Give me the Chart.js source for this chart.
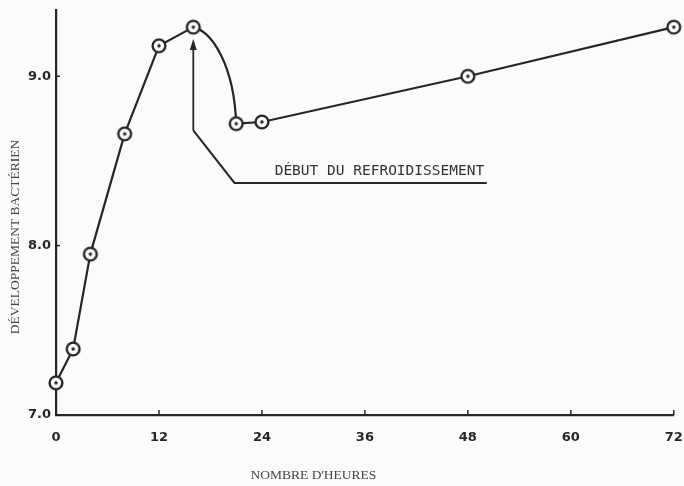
<!DOCTYPE html>
<html lang="fr">
<head>
<meta charset="UTF-8">
<title>Développement bactérien</title>
<script src="https://cdn.jsdelivr.net/npm/chart.js@4.4.0/dist/chart.umd.min.js"></script>
<style>
  html, body { margin: 0; padding: 0; background: #fbfbf9; }
  .wrap { position: relative; width: 684px; height: 486px; }
</style>
</head>
<body>
<div class="wrap"><canvas id="chart"></canvas></div>
<script>
// data
const hours  = [0, 2, 4, 8, 12, 16, 21, 24, 48, 72];
const growth = [7.19, 7.39, 7.95, 8.66, 9.18, 9.29, 8.72, 8.73, 9.0, 9.29];
const xTicks = [0, 12, 24, 36, 48, 60, 72];
const yTicks = [7.0, 8.0, 9.0];

const yTitle = 'DÉVELOPPEMENT BACTÉRIEN';
const xTitle = "NOMBRE D'HEURES";
const noteText = 'DÉBUT DU REFROIDISSEMENT';

// annotation leader in chart units (hours, value)
const arrowX = 16;
const arrowFromTo = [8.68, 9.22];
const leaderX = [16, 20.8, 50.2];
const leaderY = [8.68, 8.37, 8.37];
const noteAt = [49.9, 8.44];
const xTitleAt = 30;
const curvedSegment = 5; // 16h -> 21h is drawn as a curve

const ink = '#262626';

function markerCanvas() {
    const c = document.createElement('canvas');
    c.width = 18; c.height = 18;
    const g = c.getContext('2d');
    g.fillStyle = '#fbfbf9';
    g.strokeStyle = ink;
    g.lineWidth = 2.4;
    g.beginPath(); g.arc(9, 9, 6.4, 0, Math.PI * 2); g.fill(); g.stroke();
    g.fillStyle = ink;
    g.beginPath(); g.arc(9, 9, 1.7, 0, Math.PI * 2); g.fill();
    return c;
}

// curve between 16h and 21h, drawn under the markers
const curvePlugin = {
    id: 'curve',
    beforeDatasetsDraw(chart) {
        const pts = chart.getDatasetMeta(0).data;
        const a = pts[curvedSegment], b = pts[curvedSegment + 1];
        const dx = b.x - a.x, dy = b.y - a.y;
        const ctx = chart.ctx;
        ctx.save();
        ctx.strokeStyle = ink;
        ctx.lineWidth = 2.2;
        ctx.beginPath();
        ctx.moveTo(a.x, a.y);
        ctx.bezierCurveTo(a.x + dx * 0.45, a.y + dy * 0.05, b.x - dx * 0.05, a.y + dy * 0.4, b.x, b.y);
        ctx.stroke();
        ctx.restore();
    }
};

// arrow, leader line, note and axis titles
const notesPlugin = {
    id: 'notes',
    afterDraw(chart) {
        const ctx = chart.ctx;
        const xs = chart.scales.x, ys = chart.scales.y;
        ctx.save();
        ctx.strokeStyle = ink;
        ctx.fillStyle = ink;

        // small tick marks pointing into the plot
        ctx.lineWidth = 1.5;
        xTicks.slice(1).forEach(v => {
            const px = xs.getPixelForValue(v);
            ctx.beginPath(); ctx.moveTo(px, ys.bottom); ctx.lineTo(px, ys.bottom - 5); ctx.stroke();
        });
        yTicks.slice(1).forEach(v => {
            const py = ys.getPixelForValue(v);
            ctx.beginPath(); ctx.moveTo(xs.left, py); ctx.lineTo(xs.left + 4, py); ctx.stroke();
        });

        // arrow
        const ax = xs.getPixelForValue(arrowX);
        const a0 = ys.getPixelForValue(arrowFromTo[0]);
        const a1 = ys.getPixelForValue(arrowFromTo[1]);
        ctx.lineWidth = 1.8;
        ctx.beginPath(); ctx.moveTo(ax, a0); ctx.lineTo(ax, a1 + 8); ctx.stroke();
        ctx.beginPath();
        ctx.moveTo(ax, a1); ctx.lineTo(ax - 3.5, a1 + 11); ctx.lineTo(ax + 3.5, a1 + 11);
        ctx.closePath(); ctx.fill();

        // leader
        ctx.lineWidth = 2;
        ctx.beginPath();
        leaderX.forEach((v, i) => {
            const px = xs.getPixelForValue(v), py = ys.getPixelForValue(leaderY[i]);
            if (i === 0) ctx.moveTo(px, py); else ctx.lineTo(px, py);
        });
        ctx.stroke();

        // note
        ctx.font = '14.5px "DejaVu Sans Mono"';
        ctx.fillStyle = '#333';
        ctx.textAlign = 'right';
        ctx.textBaseline = 'middle';
        ctx.fillText(noteText, xs.getPixelForValue(noteAt[0]), ys.getPixelForValue(noteAt[1]));

        // axis titles
        ctx.font = '13.5px "Liberation Serif"';
        ctx.fillStyle = '#444';
        ctx.textAlign = 'center';
        ctx.fillText(xTitle, xs.getPixelForValue(xTitleAt), 475);
        ctx.translate(15, 237);
        ctx.rotate(-Math.PI / 2);
        ctx.fillText(yTitle, 0, 0);
        ctx.restore();
    }
};

new Chart(document.getElementById('chart'), {
    type: 'line',
    data: {
        datasets: [{
            data: hours.map((h, i) => ({ x: h, y: growth[i] })),
            borderColor: ink,
            borderWidth: 2.2,
            tension: 0,
            pointStyle: markerCanvas(),
            pointRadius: 8,
            clip: false,
            segment: {
                borderColor: c => c.p0DataIndex === curvedSegment ? 'rgba(0,0,0,0)' : ink
            }
        }]
    },
    options: {
        responsive: true,
        maintainAspectRatio: false,
        animation: false,
        events: [],
        layout: { padding: { top: 8, right: 9, left: 0, bottom: 0 } },
        plugins: {
            legend: { display: false },
            tooltip: { enabled: false }
        },
        scales: {
            x: {
                type: 'linear',
                min: 0,
                max: 72,
                afterBuildTicks: s => { s.ticks = xTicks.map(v => ({ value: v })); },
                afterFit: s => { s.height = 71; s.paddingRight = 0; s.paddingLeft = 0; },
                ticks: {
                    color: ink,
                    font: { family: 'DejaVu Sans', size: 13, weight: 'bold' },
                    padding: 15,
                    maxRotation: 0,
                    autoSkip: false
                },
                grid: { drawOnChartArea: false, drawTicks: false },
                border: { color: ink, width: 2.2 }
            },
            y: {
                min: 7,
                max: 9.39,
                afterBuildTicks: s => { s.ticks = yTicks.map(v => ({ value: v })); },
                afterFit: s => { s.width = 56; s.paddingTop = 0; s.paddingBottom = 0; },
                ticks: {
                    color: ink,
                    font: { family: 'DejaVu Sans', size: 13, weight: 'bold' },
                    padding: 5,
                    callback: v => v.toFixed(1)
                },
                grid: { drawOnChartArea: false, drawTicks: false },
                border: { color: ink, width: 2.2 }
            }
        }
    },
    plugins: [curvePlugin, notesPlugin]
});
</script>
</body>
</html>
